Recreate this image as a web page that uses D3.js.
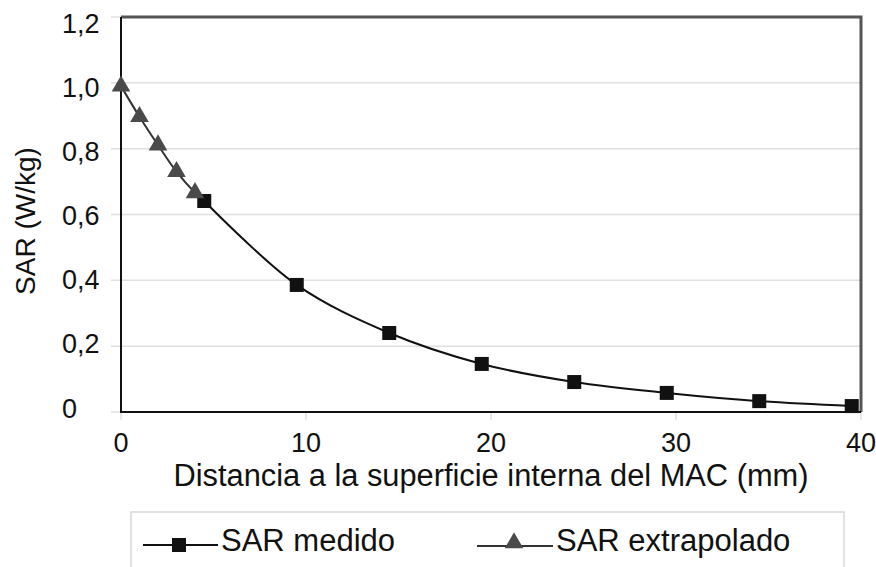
<!DOCTYPE html>
<html>
<head>
<meta charset="utf-8">
<script src="https://cdn.jsdelivr.net/npm/d3@7"></script>
<style>
  html, body { margin: 0; padding: 0; background: #fff; }
  svg { display: block; font-family: "Liberation Sans", Arial, sans-serif; }
</style>
</head>
<body>
<svg id="chart" width="876" height="567"></svg>
<script>
// Measured SAR (squares) and extrapolated SAR near the surface (triangles)
const medidoX = [4.5, 9.5, 14.5, 19.5, 24.5, 29.5, 34.5, 39.5];
const medidoY = [0.641, 0.386, 0.240, 0.146, 0.091, 0.058, 0.033, 0.018];
const extrapX = [0, 1, 2, 3, 4];
const extrapY = [0.99, 0.897, 0.811, 0.730, 0.666];

const xTicks = [0, 10, 20, 30, 40];
const xTickLabels = ["0", "10", "20", "30", "40"];
const yTicks = [0, 0.2, 0.4, 0.6, 0.8, 1.0, 1.2];
const yTickLabels = ["0", "0,2", "0,4", "0,6", "0,8", "1,0", "1,2"];

const seriesNames = ["SAR medido", "SAR extrapolado"];
const xTitle = "Distancia a la superficie interna del MAC (mm)";
const yTitle = "SAR (W/kg)";

const svg = d3.select("#chart");
const plotL = 121, plotR = 861, plotT = 17, plotB = 412;

const x = d3.scaleLinear().domain([0, 40]).range([plotL, plotR]);
const y = d3.scaleLinear().domain([0, 1.2]).range([plotB, plotT]);
// tick labels sit on a slightly tighter spacing than the gridlines
const yLab = d3.scaleLinear().domain([0, 1.2]).range([408, 23]);

// gridlines + left tick marks
svg.append("g").selectAll("line")
  .data(yTicks.filter(d => d > 0 && d < 1.2))
  .join("line")
  .attr("x1", 111).attr("x2", plotR)
  .attr("y1", d => y(d)).attr("y2", d => y(d))
  .attr("stroke", "#e0e0e0").attr("stroke-width", 1.5);

svg.append("g").selectAll("line")
  .data([0, 1.2])
  .join("line")
  .attr("x1", 111).attr("x2", plotL)
  .attr("y1", d => y(d)).attr("y2", d => y(d))
  .attr("stroke", "#e0e0e0").attr("stroke-width", 1.5);

// bottom tick marks
svg.append("g").selectAll("line")
  .data(xTicks)
  .join("line")
  .attr("x1", d => x(d)).attr("x2", d => x(d))
  .attr("y1", plotB).attr("y2", plotB + 8)
  .attr("stroke", "#e0e0e0").attr("stroke-width", 1.5);

// frame: top and right in dark grey, axes in black
svg.append("path")
  .attr("d", `M${plotL},${plotT}H${plotR}V${plotB}`)
  .attr("fill", "none").attr("stroke", "#555").attr("stroke-width", 3);
svg.append("path")
  .attr("d", `M${plotL},${plotT}V${plotB}H${plotR}`)
  .attr("fill", "none").attr("stroke", "#111").attr("stroke-width", 2);

// tick labels
svg.append("g").selectAll("text")
  .data(yTicks)
  .join("text")
  .attr("x", 62).attr("y", d => yLab(d) + 9.5)
  .attr("font-size", 27).attr("fill", "#111")
  .text((d, i) => yTickLabels[i]);

svg.append("g").selectAll("text")
  .data(xTicks)
  .join("text")
  .attr("x", d => x(d)).attr("y", 452)
  .attr("text-anchor", "middle")
  .attr("font-size", 27).attr("fill", "#111")
  .text((d, i) => xTickLabels[i]);

// axis titles
svg.append("text")
  .attr("x", 491).attr("y", 486)
  .attr("text-anchor", "middle")
  .attr("font-size", 30.8).attr("fill", "#111")
  .text(xTitle);

svg.append("text")
  .attr("transform", "translate(35,221) rotate(-90)")
  .attr("text-anchor", "middle")
  .attr("font-size", 28).attr("fill", "#111")
  .text(yTitle);

// curves
const line = d3.line().x(d => x(d[0])).y(d => y(d[1])).curve(d3.curveCatmullRom.alpha(0.5));
const medido = medidoX.map((v, i) => [v, medidoY[i]]);
const extrap = extrapX.map((v, i) => [v, extrapY[i]]);

svg.append("path").datum(extrap.concat([medido[0]]))
  .attr("d", line).attr("fill", "none").attr("stroke", "#333").attr("stroke-width", 2);
svg.append("path").datum(medido)
  .attr("d", line).attr("fill", "none").attr("stroke", "#111").attr("stroke-width", 2);

const tri = d3.symbol().type(d3.symbolTriangle).size(150);
const sq = 14;

svg.append("g").selectAll("rect")
  .data(medido)
  .join("rect")
  .attr("x", d => x(d[0]) - sq / 2).attr("y", d => y(d[1]) - sq / 2)
  .attr("width", sq).attr("height", sq)
  .attr("fill", "#111");

svg.append("g").selectAll("path")
  .data(extrap)
  .join("path")
  .attr("d", tri)
  .attr("transform", d => `translate(${x(d[0])},${y(d[1])})`)
  .attr("fill", "#4a4a4a");

// legend
const lg = svg.append("g");
lg.append("rect")
  .attr("x", 131).attr("y", 512).attr("width", 713).attr("height", 80)
  .attr("fill", "#fff").attr("stroke", "#d8d8d8").attr("stroke-width", 1.5);

lg.append("line").attr("x1", 143).attr("x2", 218).attr("y1", 545).attr("y2", 545)
  .attr("stroke", "#111").attr("stroke-width", 2);
lg.append("rect").attr("x", 179 - sq / 2).attr("y", 545 - sq / 2)
  .attr("width", sq).attr("height", sq).attr("fill", "#111");
lg.append("text").attr("x", 221).attr("y", 551)
  .attr("font-size", 31).attr("fill", "#111").text(seriesNames[0]);

lg.append("line").attr("x1", 477).attr("x2", 553).attr("y1", 546).attr("y2", 546)
  .attr("stroke", "#333").attr("stroke-width", 2);
lg.append("path").attr("d", tri)
  .attr("transform", "translate(514,543)").attr("fill", "#4a4a4a");
lg.append("text").attr("x", 556).attr("y", 551)
  .attr("font-size", 31).attr("fill", "#111").text(seriesNames[1]);
</script>
</body>
</html>
